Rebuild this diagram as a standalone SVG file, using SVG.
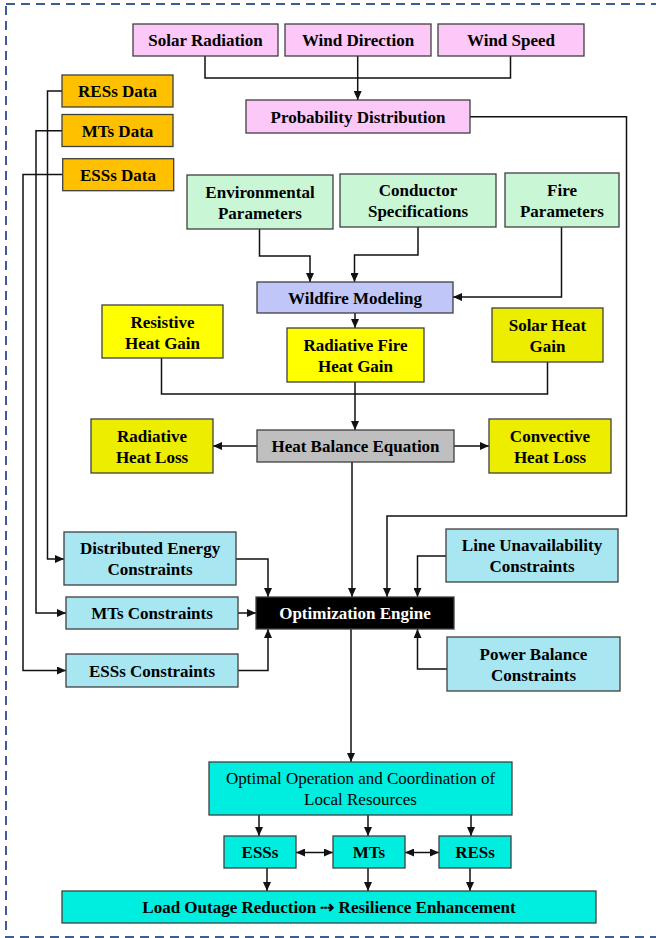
<svg xmlns="http://www.w3.org/2000/svg" width="656" height="938" viewBox="0 0 656 938">
<style>
.b{stroke:#3f3f3f;stroke-width:1.3}
.t{font-family:"Liberation Serif","Times New Roman",serif;font-size:17px;font-weight:bold;text-anchor:middle;fill:#000}
.r{font-weight:normal}
.pink{fill:#fcc8f8}.org{fill:#ffc000}.grn{fill:#c9f7d6}.blu{fill:#c0c6f8}.yel{fill:#ffff00}.yel2{fill:#eded00}.gry{fill:#bfbfbf}.cy{fill:#a8e6f2}.tq{fill:#00eedf}
.c path{fill:none;stroke:#111;stroke-width:1.5}
</style>
<defs>
<marker id="a" markerUnits="userSpaceOnUse" markerWidth="9" markerHeight="8" refX="9" refY="4" orient="auto-start-reverse"><path d="M0,0 L9,4 L0,8 z" fill="#111"/></marker>
</defs>
<rect x="6" y="4" width="700" height="933" fill="none" stroke="#3d5d98" stroke-width="2" stroke-dasharray="9 6"/>
<g class="c" id="connectors">
<path d="M205,56 V78 H510.5 V56"/>
<path d="M357.7,56 V100" marker-end="url(#a)"/>
<path d="M470,116.7 H626.5 V516 H387 V597" marker-end="url(#a)"/>
<path d="M62,91 H47.5 V559 H64" marker-end="url(#a)"/>
<path d="M62,130.7 H36 V613 H66" marker-end="url(#a)"/>
<path d="M62.7,174.5 H23 V670.5 H66" marker-end="url(#a)"/>
<path d="M259.5,229 V256 H310 V282" marker-end="url(#a)"/>
<path d="M418,227 V255 H354.5 V282" marker-end="url(#a)"/>
<path d="M561.5,227 V297 H453" marker-end="url(#a)"/>
<path d="M355,313 V328" marker-end="url(#a)"/>
<path d="M161.5,358 V394 H547.5 V362"/>
<path d="M355,382 V430" marker-end="url(#a)"/>
<path d="M257,446 H213" marker-end="url(#a)"/>
<path d="M454,446 H489" marker-end="url(#a)"/>
<path d="M352,462 V597" marker-end="url(#a)"/>
<path d="M236,559 H268 V597" marker-end="url(#a)"/>
<path d="M238,613 H256" marker-end="url(#a)"/>
<path d="M238,670.5 H268 V629" marker-end="url(#a)"/>
<path d="M446,556 H417.5 V597" marker-end="url(#a)"/>
<path d="M447,669 H417.5 V629" marker-end="url(#a)"/>
<path d="M351,629 V762" marker-end="url(#a)"/>
<path d="M259,815 V836" marker-end="url(#a)"/>
<path d="M368,815 V836" marker-end="url(#a)"/>
<path d="M471,815 V836" marker-end="url(#a)"/>
<path d="M296,852.5 H333" marker-start="url(#a)" marker-end="url(#a)"/>
<path d="M405,852.5 H439" marker-start="url(#a)" marker-end="url(#a)"/>
<path d="M267,868 V891" marker-end="url(#a)"/>
<path d="M368,868 V891" marker-end="url(#a)"/>
<path d="M470,868 V891" marker-end="url(#a)"/>
</g>
<g id="solar"><rect class="b pink" x="133" y="24" width="145" height="32"/><text class="t" x="205.5" y="46">Solar Radiation</text></g>
<g id="winddir"><rect class="b pink" x="285" y="24" width="146" height="32"/><text class="t" x="358" y="46">Wind Direction</text></g>
<g id="windspeed"><rect class="b pink" x="438" y="24" width="146" height="32"/><text class="t" x="511" y="46">Wind Speed</text></g>
<g id="prob"><rect class="b pink" x="246" y="100" width="224" height="33"/><text class="t" x="358" y="122.5">Probability Distribution</text></g>
<g id="resdata"><rect class="b org" x="62" y="75" width="111" height="32"/><text class="t" x="117.5" y="97">RESs Data</text></g>
<g id="mtdata"><rect class="b org" x="62" y="114.5" width="111" height="32"/><text class="t" x="117.5" y="136.5">MTs Data</text></g>
<g id="essdata"><rect class="b org" x="62.7" y="158.7" width="111" height="32"/><text class="t" x="118" y="180.5">ESSs Data</text></g>
<g id="env"><rect class="b grn" x="187" y="175" width="146" height="54"/><text class="t" x="260" y="198">Environmental</text><text class="t" x="260" y="219">Parameters</text></g>
<g id="cond"><rect class="b grn" x="340" y="174" width="156" height="53"/><text class="t" x="418" y="196">Conductor</text><text class="t" x="418" y="217">Specifications</text></g>
<g id="fire"><rect class="b grn" x="505" y="173" width="114" height="54"/><text class="t" x="562" y="196">Fire</text><text class="t" x="562" y="217">Parameters</text></g>
<g id="wildfire"><rect class="b blu" x="257" y="282" width="196" height="31"/><text class="t" x="355" y="303.5">Wildfire Modeling</text></g>
<g id="resistive"><rect class="b yel" x="102" y="305" width="121" height="53"/><text class="t" x="162.5" y="328">Resistive</text><text class="t" x="162.5" y="349">Heat Gain</text></g>
<g id="radfire"><rect class="b yel" x="287" y="328" width="137" height="54"/><text class="t" x="355.5" y="351">Radiative Fire</text><text class="t" x="355.5" y="372">Heat Gain</text></g>
<g id="solarheat"><rect class="b yel2" x="492" y="308" width="111" height="54"/><text class="t" x="547.5" y="331">Solar Heat</text><text class="t" x="547.5" y="352">Gain</text></g>
<g id="heatbal"><rect class="b gry" x="257" y="430" width="197" height="32"/><text class="t" x="355.5" y="452">Heat Balance Equation</text></g>
<g id="radloss"><rect class="b yel2" x="91" y="419" width="122" height="54"/><text class="t" x="152" y="442">Radiative</text><text class="t" x="152" y="463">Heat Loss</text></g>
<g id="convloss"><rect class="b yel2" x="489" y="419" width="122" height="54"/><text class="t" x="550" y="442">Convective</text><text class="t" x="550" y="463">Heat Loss</text></g>
<g id="dec"><rect class="b cy" x="64" y="532" width="172" height="53"/><text class="t" x="150" y="554">Distributed Energy</text><text class="t" x="150" y="575">Constraints</text></g>
<g id="mtc"><rect class="b cy" x="66" y="597" width="172" height="32"/><text class="t" x="152" y="619">MTs Constraints</text></g>
<g id="essc"><rect class="b cy" x="66" y="654" width="172" height="33"/><text class="t" x="152" y="676.5">ESSs Constraints</text></g>
<g id="luc"><rect class="b cy" x="446" y="529" width="172" height="53"/><text class="t" x="532" y="551">Line Unavailability</text><text class="t" x="532" y="572">Constraints</text></g>
<g id="pbc"><rect class="b cy" x="447" y="637" width="173" height="54"/><text class="t" x="533.5" y="660">Power Balance</text><text class="t" x="533.5" y="681">Constraints</text></g>
<g id="opt"><rect x="256" y="597" width="198" height="32" fill="#000" stroke="#3f3f3f" stroke-width="1.3"/><text class="t" x="355" y="619" fill="#fff" style="fill:#fff">Optimization Engine</text></g>
<g id="optimal"><rect class="b tq" x="209" y="762" width="303" height="53"/><text class="t r" x="360.5" y="784">Optimal Operation and Coordination of</text><text class="t r" x="360.5" y="805">Local Resources</text></g>
<g id="ess"><rect class="b tq" x="224" y="836" width="72" height="32"/><text class="t" x="260" y="858">ESSs</text></g>
<g id="mt"><rect class="b tq" x="333" y="836" width="72" height="32"/><text class="t" x="369" y="858">MTs</text></g>
<g id="res"><rect class="b tq" x="439" y="836" width="72" height="32"/><text class="t" x="475" y="858">RESs</text></g>
<g id="load"><rect class="b tq" x="62" y="891" width="534" height="32"/><text class="t" x="329" y="913">Load Outage Reduction ⇢ Resilience Enhancement</text></g>
</svg>
